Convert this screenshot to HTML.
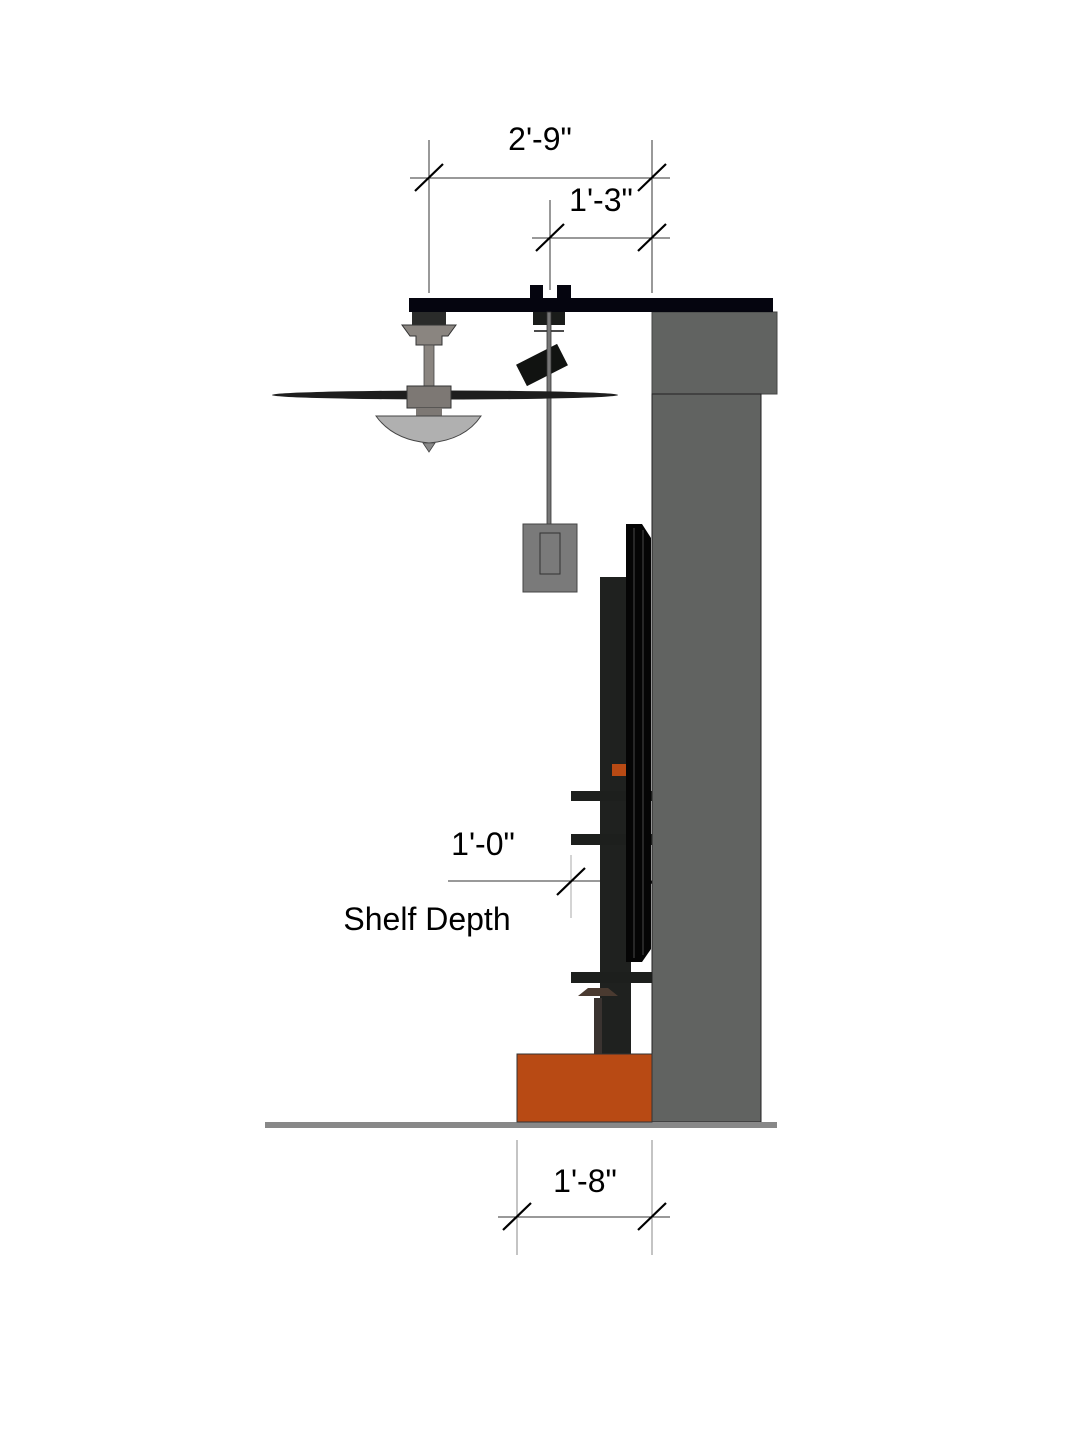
<!DOCTYPE html>
<html><head><meta charset="utf-8"><style>
html,body{margin:0;padding:0;background:#fff;}
svg{display:block;}
text{font-family:"Liberation Sans",sans-serif;font-size:32px;fill:#000;}
</style></head><body>
<svg width="1080" height="1440" viewBox="0 0 1080 1440" xmlns="http://www.w3.org/2000/svg">
<rect width="1080" height="1440" fill="#fff"/>
<g stroke="#333" stroke-width="1">
<line x1="410" y1="178" x2="670" y2="178"/>
<line x1="429" y1="140" x2="429" y2="293"/>
<line x1="652" y1="140" x2="652" y2="293"/>
<line x1="532" y1="238" x2="670" y2="238"/>
<line x1="550" y1="200" x2="550" y2="290"/>
<line x1="448" y1="881" x2="670" y2="881"/>
<line x1="571" y1="855" x2="571" y2="918" stroke="#aaa"/>
<line x1="498" y1="1217" x2="670" y2="1217"/>
<line x1="517" y1="1140" x2="517" y2="1255" stroke="#888"/>
<line x1="652" y1="1140" x2="652" y2="1255" stroke="#888"/>
</g>
<g stroke="#000" stroke-width="2.2">
<line x1="415" y1="191" x2="443" y2="164"/>
<line x1="638" y1="191" x2="666" y2="164"/>
<line x1="536" y1="251" x2="564" y2="224"/>
<line x1="638" y1="251" x2="666" y2="224"/>
<line x1="557" y1="895" x2="585" y2="868"/>
<line x1="638" y1="895" x2="666" y2="868"/>
<line x1="503" y1="1230" x2="531" y2="1203"/>
<line x1="638" y1="1230" x2="666" y2="1203"/>
</g>
<text x="540" y="150" text-anchor="middle">2'-9"</text>
<text x="601" y="211" text-anchor="middle">1'-3"</text>
<text x="483" y="855" text-anchor="middle">1'-0"</text>
<text x="427" y="930" text-anchor="middle">Shelf Depth</text>
<text x="585" y="1192" text-anchor="middle">1'-8"</text>
<rect x="652" y="312" width="125" height="82" fill="#616361" stroke="#444" stroke-width="1"/>
<rect x="652" y="394" width="109" height="728" fill="#616361" stroke="#222" stroke-width="1"/>
<rect x="265" y="1122" width="512" height="6" fill="#888"/>
<rect x="409" y="298" width="364" height="14" fill="#05050f"/>
<rect x="530" y="285" width="13" height="14" fill="#05050f"/>
<rect x="557" y="285" width="14" height="14" fill="#05050f"/>
<rect x="533" y="312" width="32" height="13" fill="#1a1c1a"/>
<line x1="534" y1="331" x2="564" y2="331" stroke="#111" stroke-width="1.5"/>
<rect x="519" y="353" width="46" height="24" fill="#111311" transform="rotate(-27 542 365)"/>
<rect x="547" y="312" width="4" height="220" fill="#777" stroke="#333" stroke-width="0.8"/>
<rect x="523" y="524" width="54" height="68" fill="#7a7a7a" stroke="#444" stroke-width="1"/>
<rect x="540" y="533" width="20" height="41" fill="#7a7a7a" stroke="#333" stroke-width="1"/>
<rect x="412" y="312" width="34" height="14" fill="#2a2b2a"/>
<polygon points="402,325 456,325 448,336 442,336 442,345 416,345 416,336 410,336" fill="#8a8580" stroke="#333" stroke-width="1"/>
<rect x="424" y="345" width="10" height="42" fill="#8a8580" stroke="#444" stroke-width="0.8"/>
<ellipse cx="445" cy="395" rx="173" ry="4.5" fill="#1e1e1e"/>
<rect x="407" y="386" width="44" height="22" fill="#7d7874" stroke="#333" stroke-width="1"/>
<rect x="416" y="408" width="26" height="8" fill="#7d7874"/>
<path d="M376,416 L481,416 Q465,440 429,443 Q393,440 376,416Z" fill="#b0b0b0" stroke="#444" stroke-width="1"/>
<path d="M423,443 L435,443 L429,452Z" fill="#888" stroke="#444" stroke-width="0.8"/>
<rect x="600" y="577" width="31" height="477" fill="#1f211f"/>
<rect x="571" y="791" width="81" height="10" fill="#1d1f1d"/>
<rect x="571" y="834" width="81" height="11" fill="#1d1f1d"/>
<rect x="571" y="972" width="81" height="11" fill="#1d1f1d"/>
<rect x="612" y="764" width="14" height="12" fill="#b84a14"/>
<path d="M626,524 L642,524 L651,538 L651,949 L642,962 L626,962Z" fill="#050505"/>
<line x1="634" y1="528" x2="634" y2="958" stroke="#333" stroke-width="1.5"/>
<line x1="643" y1="530" x2="643" y2="955" stroke="#333" stroke-width="1.5"/>
<path d="M578,996 L618,996 L608,988 L588,988Z" fill="#4a3a30"/>
<rect x="594" y="998" width="8" height="56" fill="#3a3330"/>
<rect x="517" y="1054" width="135" height="68" fill="#b84a14" stroke="#333" stroke-width="1"/>
</svg>
</body></html>
